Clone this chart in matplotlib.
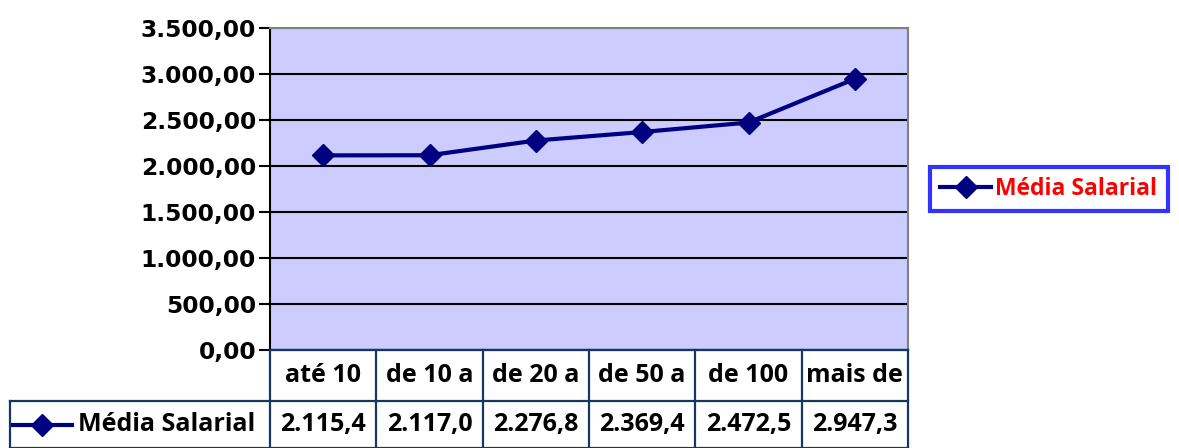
import matplotlib.pyplot as plt
from matplotlib.lines import Line2D

# dados
categorias = ['até 10', 'de 10 a', 'de 20 a', 'de 50 a', 'de 100', 'mais de']
media_salarial = [2115.4, 2117.0, 2276.8, 2369.4, 2472.5, 2947.3]
serie = 'Média Salarial'
y_ticks = [0, 500, 1000, 1500, 2000, 2500, 3000, 3500]

W, H = 1179, 448
fig = plt.figure(figsize=(W / 100, H / 100), dpi=100)

# area do grafico (pixels)
px_l, px_r, px_t, px_b = 270, 908, 28, 350
ax = fig.add_axes([px_l / W, (H - px_b) / H, (px_r - px_l) / W, (px_b - px_t) / H])
ax.set_facecolor('#CCCCFF')
ax.set_xlim(-0.5, len(categorias) - 0.5)
ax.set_ylim(0, 3500)
ax.set_yticks(y_ticks)
ax.set_yticklabels([f'{v:,.2f}'.replace(',', 'X').replace('.', ',').replace('X', '.') for v in y_ticks],
                   fontfamily='DejaVu Sans', fontweight='bold', fontsize=16.8)
ax.set_xticks([])
ax.tick_params(axis='y', length=8, width=1.5, direction='out', pad=2)
ax.yaxis.grid(True, color='black', linewidth=1.5)
ax.set_axisbelow(True)
for s in ['top', 'right']:
    ax.spines[s].set_color('#808080')
    ax.spines[s].set_linewidth(1.5)
ax.spines['left'].set_linewidth(1.5)
ax.spines['bottom'].set_linewidth(1.5)

ax.plot(range(len(categorias)), media_salarial, color='#000080', linewidth=3,
        marker='D', markersize=11, label=serie, zorder=3)

fonte = {'family': 'Open Sans', 'weight': 'bold', 'size': 18}

# legenda
leg = fig.legend(handles=[Line2D([], [], color='#000080', linewidth=3, marker='D', markersize=11)],
                 labels=[serie], loc='center left', bbox_to_anchor=(930 / W, (H - 189) / H),
                 frameon=True, fancybox=False, borderpad=0.45, handlelength=2.2,
                 handletextpad=0.2, borderaxespad=0,
                 prop={'family': 'Open Sans', 'weight': 'bold', 'size': 16.5})
leg.get_frame().set_edgecolor('#0000FF')
leg.get_frame().set_linewidth(3)
for t in leg.get_texts():
    t.set_color('#FF0000')

# tabela de dados
tab = fig.add_axes([px_l / W, 0, (px_r - px_l) / W, (H - px_b) / H])
tab.set_xlim(-0.5, len(categorias) - 0.5)
tab.set_ylim(0, H - px_b)
tab.axis('off')
cor_tab = '#17375E'
meio = H - 401
topo = H - px_b
unit = (px_r - px_l) / len(categorias)
x_esq = -0.5 - (px_l - 10) / unit
for i in range(len(categorias) + 1):
    tab.plot([i - 0.5, i - 0.5], [0, topo], color=cor_tab, linewidth=1.6, clip_on=False)
tab.plot([-0.5, len(categorias) - 0.5], [topo, topo], color=cor_tab, linewidth=1.6, clip_on=False)
tab.plot([x_esq, len(categorias) - 0.5], [meio, meio], color=cor_tab, linewidth=1.6, clip_on=False)
tab.plot([x_esq, len(categorias) - 0.5], [0.5, 0.5], color=cor_tab, linewidth=1.6, clip_on=False)
tab.plot([x_esq, x_esq], [0, meio], color=cor_tab, linewidth=1.6, clip_on=False)

for i, (c, v) in enumerate(zip(categorias, media_salarial)):
    tab.text(i, (meio + topo) / 2, c, ha='center', va='center', **fonte)
    txt = f'{v:,.1f}'.replace(',', 'X').replace('.', ',').replace('X', '.')
    tab.text(i, meio / 2, txt, ha='center', va='center', **fonte)

# chave da legenda na tabela
tab.plot([x_esq + 0.03, x_esq + 0.58], [meio / 2, meio / 2], color='#000080', linewidth=3, clip_on=False)
tab.plot([x_esq + 0.3], [meio / 2], color='#000080', marker='D', markersize=11, clip_on=False)
tab.text(x_esq + 0.64, meio / 2, serie, ha='left', va='center', **fonte)

fig.savefig('out.png', dpi=100)
